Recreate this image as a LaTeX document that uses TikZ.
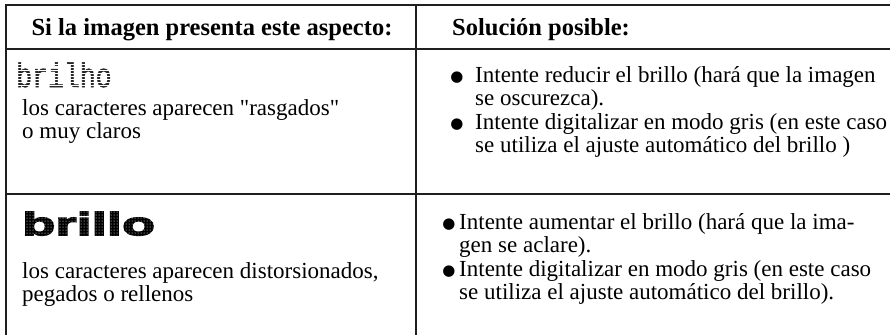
\documentclass[tikz,border=0pt]{standalone}
\usepackage{fontspec}
\setmainfont{Liberation Serif}
\newfontfamily\qfont{Liberation Serif}
\newfontfamily\bulletfont{DejaVu Sans}
\newfontfamily\rawfont[FakeStretch=0.78,FakeBold=1.5]{Liberation Mono}
\newfontfamily\fatfont[FakeBold=5,FakeStretch=1.7]{Liberation Sans Bold}
\usetikzlibrary{patterns}
\tikzset{
  rule/.style={line width=1.4pt, draw=black!88},
  txt/.style={anchor=base west, inner sep=0pt, font=\fontsize{23}{23}\selectfont},
  head/.style={anchor=base, inner sep=0pt, font=\fontsize{24.5}{24}\selectfont\bfseries},
  bul/.style={anchor=base, inner sep=0pt, font=\bulletfont\fontsize{15}{15}\selectfont},
}
\begin{document}
\begin{tikzpicture}[x=1pt,y=-1pt]
\useasboundingbox (0,0) rectangle (890,335);
% grid
\coordinate (tl) at (6,5);
\coordinate (tr) at (890,5);
\coordinate (bl) at (6,335);
\coordinate (hl) at (6,49);
\coordinate (hr) at (890,49);
\coordinate (rl) at (6,194);
\coordinate (rr) at (890,194);
\coordinate (ct) at (416,5);
\coordinate (cb) at (416,335);
\draw[rule] (tr) -- (tl) -- (bl);
\draw[rule] (hl) -- (hr);
\draw[rule] (rl) -- (rr);
\draw[rule] (ct) -- (cb);
% header
\node[head] (h1) at (212,35) {Si la imagen presenta este aspecto:};
\node[head, anchor=base west] (h2) at (452,35) {Solución posible:};
% row 1 left
\node[anchor=base west, inner sep=0pt, font=\rawfont\fontsize{34}{34}\selectfont, text=black!85] (b1) at (16,87) {brilho};
\fill[pattern=horizontal lines, pattern color=white] (b1.south west) rectangle (b1.north east);
\node[txt] (l1a) at (22,115) {los caracteres aparecen {\qfont"}rasgados{\qfont"}};
\node[txt] (l1b) at (22,138) {o muy claros};
% row 1 right
\node[bul] (p1) at (457,81) {●};
\node[txt] (r1a) at (475,82) {Intente reducir el brillo (hará que la imagen};
\node[txt] (r1b) at (475,105) {se oscurezca).};
\node[bul] (p2) at (457,128) {●};
\node[txt] (r1c) at (475,129) {Intente digitalizar en modo gris (en este caso};
\node[txt] (r1d) at (475,152) {se utiliza el ajuste automático del brillo )};
% row 2 left
\node[anchor=base west, inner sep=0pt, font=\fatfont\fontsize{32}{32}\selectfont] (b2) at (22,235) {brillo};
\fill[pattern=dots, pattern color=white] (b2.south west) rectangle (b2.north east);
\node[txt] (l2a) at (22,278) {los caracteres aparecen distorsionados,};
\node[txt] (l2b) at (22,301) {pegados o rellenos};
% row 2 right
\node[bul] (p3) at (449,228) {●};
\node[txt] (r2a) at (459,229) {Intente aumentar el brillo (hará que la ima-};
\node[txt] (r2b) at (459,252) {gen se aclare).};
\node[bul] (p4) at (449,275) {●};
\node[txt] (r2c) at (459,276) {Intente digitalizar en modo gris (en este caso};
\node[txt] (r2d) at (459,299) {se utiliza el ajuste automático del brillo).};
\end{tikzpicture}
\end{document}
